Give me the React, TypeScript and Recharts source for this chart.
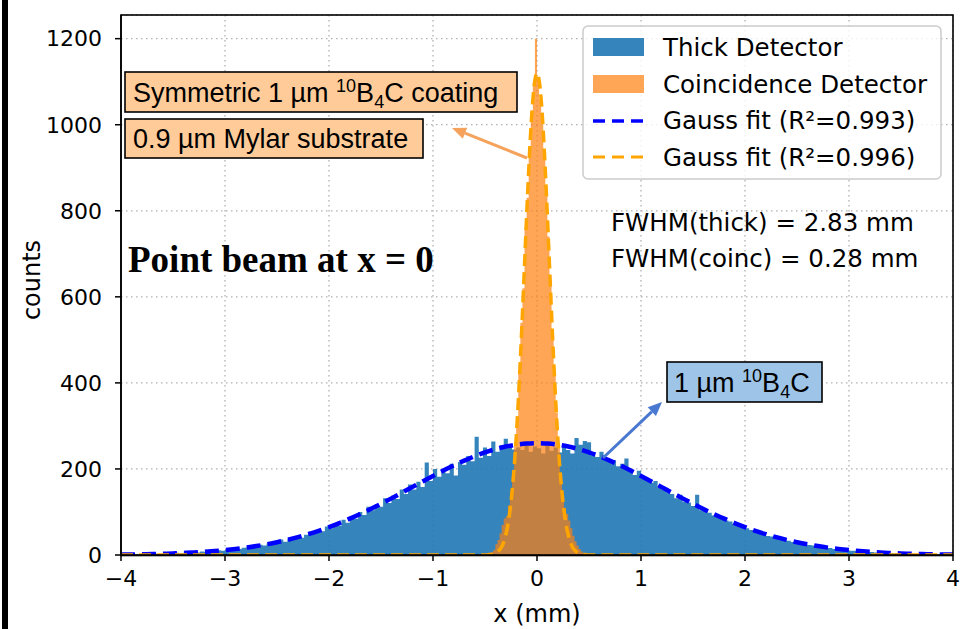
import { Area, CartesianGrid, ComposedChart, Line, XAxis, YAxis } from "recharts";

const X_TICKS = [-4, -3, -2, -1, 0, 1, 2, 3, 4];
const Y_TICKS = [0, 200, 400, 600, 800, 1000, 1200];

// thick detector histogram, 0.04 mm bins from -4 to 4
const THICK_START = -4;
const THICK_BIN = 0.04;
const THICK_COUNTS = [
    1, 2, 1, 1, 2, 3, 1, 2, 3, 2,
    4, 2, 3, 5, 4, 5, 7, 5, 6, 8,
    7, 9, 8, 11, 10, 13, 12, 16, 14, 17,
    18, 20, 19, 24, 22, 27, 25, 30, 36, 31,
    37, 35, 44, 40, 47, 54, 49, 58, 55, 66,
    62, 73, 68, 82, 75, 90, 84, 100, 93, 112,
    104, 118, 112, 132, 121, 138, 130, 152, 142, 164,
    152, 170, 158, 215, 172, 200, 182, 198, 190, 212,
    185, 216, 210, 230, 218, 275, 226, 250, 230, 264,
    240, 255, 270, 256, 245, 250, 244, 255, 240, 252,
    248, 236, 255, 242, 250, 238, 252, 244, 236, 272,
    256, 265, 262, 232, 228, 240, 222, 218, 220, 206,
    212, 224, 196, 186, 196, 178, 178, 168, 172, 156,
    152, 146, 142, 132, 140, 124, 122, 114, 140, 104,
    102, 98, 92, 88, 86, 80, 78, 72, 68, 64,
    62, 58, 56, 50, 49, 44, 43, 40, 37, 34,
    33, 30, 29, 27, 25, 23, 22, 20, 19, 17,
    16, 14, 14, 12, 12, 10, 10, 9, 8, 7,
    7, 6, 6, 5, 4, 4, 4, 3, 3, 3,
    2, 2, 2, 2, 1, 2, 1, 1, 1, 1,
];

// coincidence detector histogram, 0.02 mm bins from -0.5 to 0.5
const COINC_START = -0.5;
const COINC_BIN = 0.02;
const COINC_COUNTS = [
    1, 2, 5, 7, 12, 25, 35, 50, 70, 85, 90, 115, 150, 180, 260, 320, 430, 540, 620, 760, 830, 950, 1020, 1090, 1200,
    1110, 1060, 1000, 930, 850, 740, 640, 520, 420, 330, 250, 190, 140, 110, 95, 80, 62, 45, 32, 22, 14, 8, 4, 2, 1,
];

// gauss fit of the thick detector, sampled every 0.1 mm from -4 to 4
const THICK_FIT_X = [
    -4, -3.9, -3.8, -3.7, -3.6, -3.5, -3.4, -3.3, -3.2, -3.1, -3, -2.9, -2.8, -2.7, -2.6, -2.5, -2.4, -2.3, -2.2, -2.1,
    -2, -1.9, -1.8, -1.7, -1.6, -1.5, -1.4, -1.3, -1.2, -1.1, -1, -0.9, -0.8, -0.7, -0.6, -0.5, -0.4, -0.3, -0.2, -0.1,
    0, 0.1, 0.2, 0.3, 0.4, 0.5, 0.6, 0.7, 0.8, 0.9, 1, 1.1, 1.2, 1.3, 1.4, 1.5, 1.6, 1.7, 1.8, 1.9,
    2, 2.1, 2.2, 2.3, 2.4, 2.5, 2.6, 2.7, 2.8, 2.9, 3, 3.1, 3.2, 3.3, 3.4, 3.5, 3.6, 3.7, 3.8, 3.9, 4,
];
const THICK_FIT_Y = [
    1.0, 1.3, 1.7, 2.2, 2.9, 3.7, 4.7, 5.9, 7.4, 9.2, 11.4, 14.0, 17.1, 20.7, 24.9, 29.7, 35.2, 41.4, 48.4, 56.2,
    64.8, 74.2, 84.4, 95.3, 106.9, 119.0, 131.6, 144.6, 157.7, 170.8, 183.7, 196.3, 208.2, 219.3, 229.5, 238.4, 246.0, 252.0, 256.4, 259.1,
    260, 259.1, 256.4, 252.0, 246.0, 238.4, 229.5, 219.3, 208.2, 196.3, 183.7, 170.8, 157.7, 144.6, 131.6, 119.0, 106.9, 95.3, 84.4, 74.2,
    64.8, 56.2, 48.4, 41.4, 35.2, 29.7, 24.9, 20.7, 17.1, 14.0, 11.4, 9.2, 7.4, 5.9, 4.7, 3.7, 2.9, 2.2, 1.7, 1.3, 1.0,
];

// gauss fit of the coincidence detector
const COINC_FIT_X = [
    -4, -1, -0.6,
    -0.5, -0.48, -0.46, -0.44, -0.42, -0.4, -0.38, -0.36, -0.34, -0.32, -0.3, -0.28, -0.26, -0.24, -0.22, -0.2,
    -0.18, -0.16, -0.14, -0.12, -0.1, -0.08, -0.06, -0.04, -0.02, 0,
    0.02, 0.04, 0.06, 0.08, 0.1, 0.12, 0.14, 0.16, 0.18, 0.2, 0.22, 0.24, 0.26, 0.28, 0.3,
    0.32, 0.34, 0.36, 0.38, 0.4, 0.42, 0.44, 0.46, 0.48, 0.5,
    0.6, 1, 4,
];
const COINC_FIT_Y = [
    0, 0, 0,
    0, 0, 1, 1, 2, 4, 7, 12, 19, 30, 47, 70, 103, 146, 203, 273,
    357, 454, 561, 674, 787, 893, 986, 1058, 1104, 1120,
    1104, 1058, 986, 893, 787, 674, 561, 454, 357, 273, 203, 146, 103, 70, 47,
    30, 19, 12, 7, 4, 2, 1, 1, 0, 0,
    0, 0, 0,
];

function histSteps(start: number, bin: number, counts: number[]) {
    const pts = counts.map((c, i) => ({ x: +(start + i * bin).toFixed(3), y: c }));
    pts.push({ x: +(start + counts.length * bin).toFixed(3), y: counts[counts.length - 1] });
    return pts;
}

const thickData = histSteps(THICK_START, THICK_BIN, THICK_COUNTS);
const coincData = histSteps(COINC_START, COINC_BIN, COINC_COUNTS);
const thickFit = THICK_FIT_X.map((x, i) => ({ x, y: THICK_FIT_Y[i] }));
const coincFit = COINC_FIT_X.map((x, i) => ({ x, y: COINC_FIT_Y[i] }));

const fmt = (v: number) => String(v).replace("-", "\u2212");

const DEJAVU = "DejaVu Sans";
const ARIAL = "Liberation Sans";

function Arrow({ x1, y1, x2, y2, color }: { x1: number; y1: number; x2: number; y2: number; color: string }) {
    const a = Math.atan2(y2 - y1, x2 - x1);
    const L = 14;
    const W = 6;
    const bx = x2 - L * Math.cos(a);
    const by = y2 - L * Math.sin(a);
    const px = -Math.sin(a) * W;
    const py = Math.cos(a) * W;
    return (
        <g>
            <line x1={x1} y1={y1} x2={bx} y2={by} stroke={color} strokeWidth={3} />
            <polygon points={`${x2},${y2} ${bx + px},${by + py} ${bx - px},${by - py}`} fill={color} />
        </g>
    );
}

export default function App() {
    return (
        <div style={{ position: "absolute", left: 0, top: 0, width: 967, height: 629, background: "#fff" }}>
            <ComposedChart width={967} height={629} margin={{ top: 15, right: 14, bottom: 14, left: 41 }}>
                <CartesianGrid stroke="#b0b0b0" strokeDasharray="1.5 3.5" strokeWidth={1.3} />
                <XAxis
                    type="number"
                    dataKey="x"
                    domain={[-4, 4]}
                    ticks={X_TICKS}
                    interval={0}
                    allowDataOverflow
                    height={60}
                    tickSize={6}
                    tickMargin={9}
                    tickFormatter={fmt}
                    tick={{ fill: "#000", fontSize: 22, fontFamily: DEJAVU }}
                    tickLine={{ stroke: "#000", strokeWidth: 1.5 }}
                    axisLine={{ stroke: "#000", strokeWidth: 1.5 }}
                />
                <YAxis
                    type="number"
                    domain={[0, 1255]}
                    ticks={Y_TICKS}
                    interval={0}
                    allowDataOverflow
                    width={80}
                    tickSize={6}
                    tickMargin={13}
                    tick={{ fill: "#000", fontSize: 22, fontFamily: DEJAVU }}
                    tickLine={{ stroke: "#000", strokeWidth: 1.5 }}
                    axisLine={{ stroke: "#000", strokeWidth: 1.5 }}
                />
                <Area
                    data={thickData}
                    dataKey="y"
                    type="stepAfter"
                    fill="#1f77b4"
                    fillOpacity={0.9}
                    stroke="none"
                    isAnimationActive={false}
                />
                <Area
                    data={coincData}
                    dataKey="y"
                    type="stepAfter"
                    fill="#ff7f0e"
                    fillOpacity={0.7}
                    stroke="none"
                    isAnimationActive={false}
                />
                <Line
                    data={thickFit}
                    dataKey="y"
                    type="monotone"
                    stroke="#0000ff"
                    strokeWidth={4.5}
                    strokeDasharray="14 7"
                    dot={false}
                    isAnimationActive={false}
                />
                <Line
                    data={coincFit}
                    dataKey="y"
                    type="monotone"
                    stroke="#ffa500"
                    strokeWidth={3.5}
                    strokeDasharray="12 6"
                    dot={false}
                    isAnimationActive={false}
                />
            </ComposedChart>

            <svg
                width={967}
                height={629}
                style={{ position: "absolute", left: 0, top: 0, pointerEvents: "none" }}
            >
                {/* frame */}
                <rect x={2} y={0} width={6} height={629} fill="#000" />
                <rect x={121} y={15} width={832} height={540.5} fill="none" stroke="#000" strokeWidth={1.6} />

                {/* axis labels */}
                <text x={537} y={622} textAnchor="middle" fontFamily={DEJAVU} fontSize={24}>
                    x (mm)
                </text>
                <text
                    transform="translate(40,280) rotate(-90)"
                    textAnchor="middle"
                    fontFamily={DEJAVU}
                    fontSize={24}
                >
                    counts
                </text>

                {/* legend */}
                <rect x={583} y={26} width={358} height={153} rx={5} fill="#fff" fillOpacity={0.8} stroke="#cccccc" strokeWidth={1.5} />
                <rect x={593} y={38} width={51} height={18} fill="#1f77b4" fillOpacity={0.9} />
                <rect x={593} y={75} width={51} height={18} fill="#ff7f0e" fillOpacity={0.7} />
                <line x1={593} y1={121} x2={644} y2={121} stroke="#0000ff" strokeWidth={3.5} strokeDasharray="12 7" />
                <line x1={593} y1={157} x2={644} y2={157} stroke="#ffa500" strokeWidth={3} strokeDasharray="12 7" />
                <g fontFamily={DEJAVU} fontSize={24.5} fill="#000">
                    <text x={663} y={56}>Thick Detector</text>
                    <text x={663} y={93}>Coincidence Detector</text>
                    <text x={663} y={129}>Gauss fit (R²=0.993)</text>
                    <text x={663} y={166}>Gauss fit (R²=0.996)</text>
                </g>

                {/* fwhm */}
                <g fontFamily={DEJAVU} fontSize={24.5} fill="#000">
                    <text x={611} y={231}>FWHM(thick) = 2.83 mm</text>
                    <text x={611} y={267}>FWHM(coinc) = 0.28 mm</text>
                </g>

                <text x={128} y={272} fontFamily="Liberation Serif" fontWeight="bold" fontSize={37}>
                    Point beam at x = 0
                </text>

                {/* coating annotations */}
                <Arrow x1={527} y1={158} x2={452} y2={128} color="#f5a35c" />
                <rect x={125} y={72} width={392} height={40} fill="#ffcc99" stroke="#000" strokeWidth={1.6} />
                <text x={133} y={102} fontFamily={ARIAL} fontSize={27}>
                    Symmetric 1 µm <tspan fontSize={18} dy={-10}>10</tspan>
                    <tspan dy={10}>B</tspan>
                    <tspan fontSize={18} dy={6}>4</tspan>
                    <tspan dy={-6}>C coating</tspan>
                </text>
                <rect x={125} y={119} width={298} height={39} fill="#ffcc99" stroke="#000" strokeWidth={1.6} />
                <text x={133} y={148} fontFamily={ARIAL} fontSize={27}>
                    0.9 µm Mylar substrate
                </text>

                <Arrow x1={603} y1={458} x2={662} y2={402} color="#4878cf" />
                <rect x={667} y={362} width={155} height={40} fill="#9ec5e8" stroke="#000" strokeWidth={1.6} />
                <text x={674} y={392} fontFamily={ARIAL} fontSize={27}>
                    1 µm <tspan fontSize={18} dy={-10}>10</tspan>
                    <tspan dy={10}>B</tspan>
                    <tspan fontSize={18} dy={6}>4</tspan>
                    <tspan dy={-6}>C</tspan>
                </text>
            </svg>
        </div>
    );
}
